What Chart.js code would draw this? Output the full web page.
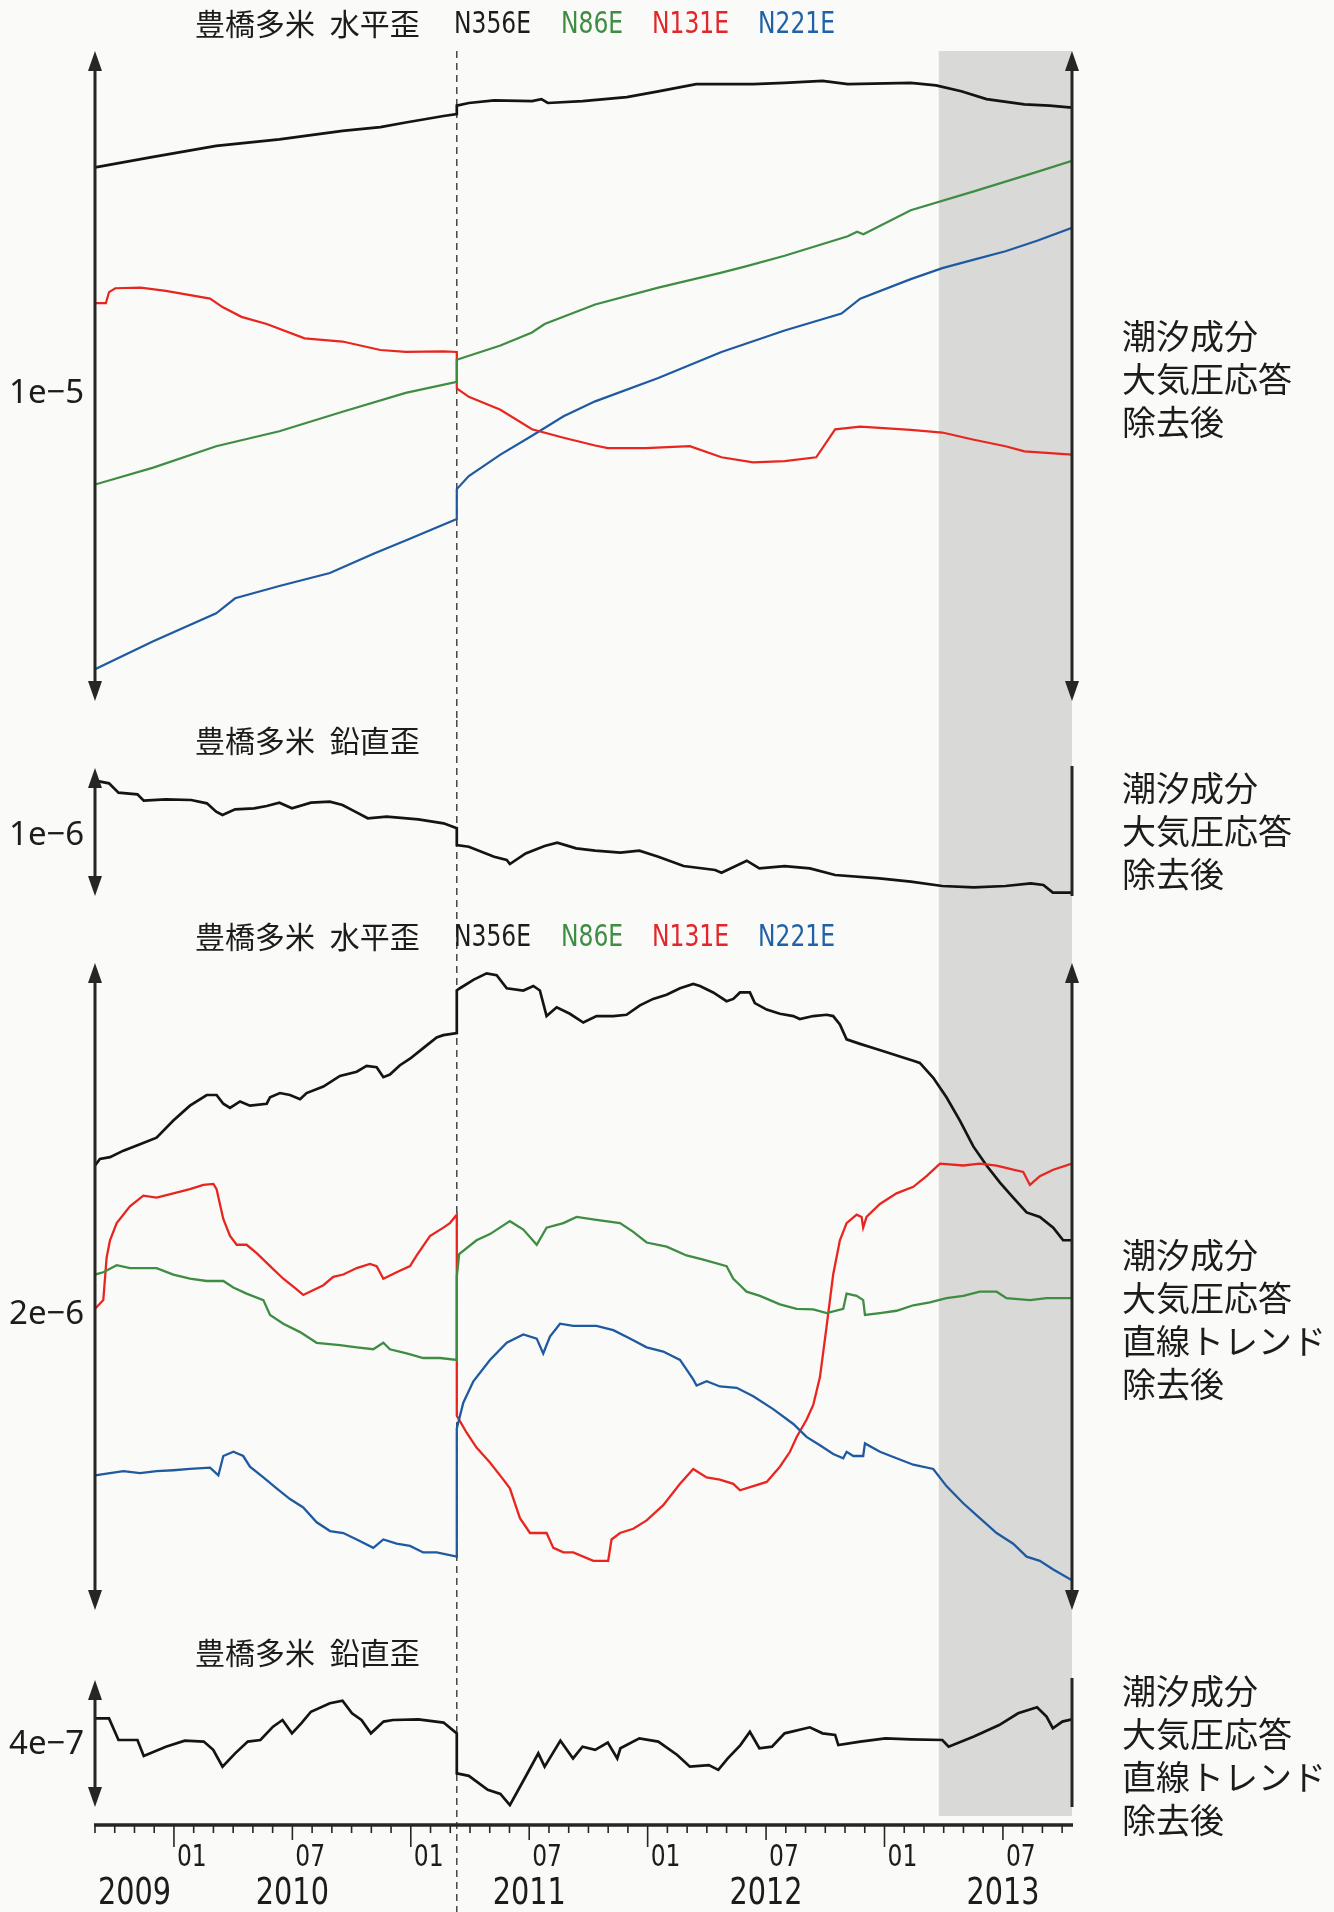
<!DOCTYPE html>
<html>
<head>
<meta charset="utf-8">
<script src="https://cdn.jsdelivr.net/npm/chart.js@4.4.1/dist/chart.umd.min.js"></script>
<style>
  body { margin: 0; background: #fafaf8; }
  #wrap { position: relative; width: 1334px; height: 1912px; overflow: hidden; background: #fafaf8; }
  canvas { position: absolute; left: 0; }
  .t { position: absolute; font-family: "Noto Sans CJK JP"; font-size: 30px; line-height: 1;
       transform: translateY(-50%); color: #1c1c1c; white-space: nowrap; word-spacing: 8px; }
  .lat { font-family: "Liberation Sans Narrow", "DejaVu Sans Condensed", sans-serif; font-size: 31px;
         transform: translateY(-50%) scaleX(0.84); transform-origin: left center; }
  .g { color: #3f8c43; } .r { color: #e3262a; } .b { color: #1f62a8; }
  .side { position: absolute; left: 1122px; font-family: "Noto Sans CJK JP"; font-size: 34px;
          line-height: 43px; color: #1c1c1c; white-space: nowrap; }
  .s { position: absolute; left: 9px; font-family: "Noto Sans"; font-size: 33px; line-height: 1;
       transform: translateY(-50%); color: #1c1c1c; }
</style>
</head>
<body>
<div id="wrap">
  <canvas id="c1" width="1334" height="720" style="top:0px"></canvas>
  <canvas id="c2" width="1334" height="210" style="top:720px"></canvas>
  <canvas id="c3" width="1334" height="700" style="top:930px"></canvas>
  <canvas id="c4" width="1334" height="282" style="top:1630px"></canvas>

  <div class="t" style="top:22px;left:195px">豊橋多米 水平歪</div>
  <div class="t lat" style="top:22px;left:454px">N356E</div>
  <div class="t lat g" style="top:22px;left:561px">N86E</div>
  <div class="t lat r" style="top:22px;left:652px">N131E</div>
  <div class="t lat b" style="top:22px;left:758px">N221E</div>

  <div class="t" style="top:739px;left:195px">豊橋多米 鉛直歪</div>

  <div class="t" style="top:935px;left:195px">豊橋多米 水平歪</div>
  <div class="t lat" style="top:935px;left:454px">N356E</div>
  <div class="t lat g" style="top:935px;left:561px">N86E</div>
  <div class="t lat r" style="top:935px;left:652px">N131E</div>
  <div class="t lat b" style="top:935px;left:758px">N221E</div>

  <div class="t" style="top:1651px;left:195px">豊橋多米 鉛直歪</div>

  <div class="s" style="top:390px">1e−5</div>
  <div class="s" style="top:832px">1e−6</div>
  <div class="s" style="top:1311px">2e−6</div>
  <div class="s" style="top:1741px">4e−7</div>

  <div class="side" style="top:313px">潮汐成分<br>大気圧応答<br>除去後</div>
  <div class="side" style="top:765px">潮汐成分<br>大気圧応答<br>除去後</div>
  <div class="side" style="top:1232px">潮汐成分<br>大気圧応答<br>直線トレンド<br>除去後</div>
  <div class="side" style="top:1668px">潮汐成分<br>大気圧応答<br>直線トレンド<br>除去後</div>
</div>

<script>
// x: months since 2009-09-01, y: strain in units of 1e-6
const X_MAX = 49.5;        // right edge, mid Oct 2013
const QUAKE = 18.33;       // 2011-03-11
const SHADE_FROM = 42.75;  // late Mar 2013

const monthTickLabels = { 4: "01", 10: "07", 16: "01", 22: "07", 28: "01", 34: "07", 40: "01", 46: "07" };
const yearLabels = ["2009", "2010", "2011", "2012", "2013"];
const yearLabelAt = [0, 10, 22, 34, 46];

// panel 1: horizontal strain, tides + air pressure removed (bar = 1e-5)
const h1Black = [[0,8.21],[2.95,8.37],[6.14,8.54],[9.34,8.64],[12.54,8.77],[14.46,8.83],[15.74,8.90],[17.66,9.00],[18.33,9.03],[18.33,9.16],[18.94,9.20],[20.22,9.24],[22.14,9.23],[22.62,9.26],[22.94,9.20],[24.70,9.23],[26.94,9.29],[28.54,9.38],[30.46,9.49],[33.34,9.49],[34.94,9.51],[36.86,9.54],[38.14,9.49],[41.33,9.51],[42.61,9.47],[43.89,9.38],[45.17,9.26],[47.09,9.18],[48.37,9.16],[49.5,9.13]];
const h1Green = [[0,3.33],[2.95,3.59],[6.14,3.92],[9.34,4.15],[12.54,4.45],[15.74,4.74],[18.33,4.91],[18.33,5.25],[20.54,5.47],[22.14,5.67],[22.78,5.80],[25.34,6.10],[28.54,6.36],[31.74,6.59],[33.02,6.69],[34.94,6.85],[38.14,7.15],[38.61,7.22],[38.93,7.18],[41.33,7.55],[44.53,7.84],[47.73,8.14],[49.5,8.31]];
const h1Red = [[0,6.12],[0.55,6.12],[0.71,6.29],[1.03,6.35],[2.31,6.36],[3.59,6.31],[5.83,6.19],[6.46,6.06],[7.42,5.91],[8.70,5.80],[10.62,5.58],[12.54,5.53],[14.46,5.40],[15.74,5.37],[17.66,5.38],[18.33,5.37],[18.33,4.81],[18.94,4.68],[20.54,4.48],[22.14,4.18],[23.74,4.05],[25.34,3.93],[25.98,3.89],[27.90,3.89],[30.14,3.92],[31.74,3.75],[33.34,3.67],[34.94,3.69],[36.54,3.75],[37.50,4.18],[38.77,4.22],[41.33,4.17],[42.93,4.13],[44.53,4.02],[46.13,3.92],[47.09,3.84],[49.5,3.79]];
const h1Blue = [[0,0.49],[2.95,0.92],[6.14,1.35],[7.10,1.58],[9.34,1.77],[11.90,1.97],[14.14,2.27],[15.74,2.47],[18.33,2.80],[18.33,3.26],[18.94,3.46],[20.54,3.79],[22.14,4.08],[23.74,4.38],[25.34,4.61],[28.54,4.97],[31.74,5.37],[34.94,5.70],[37.82,5.96],[38.77,6.19],[41.33,6.49],[42.93,6.66],[44.53,6.79],[46.13,6.92],[47.73,7.08],[49.5,7.28]];

// panel 2: vertical strain (bar = 1e-6)
const v1Black = [[0,0.901],[0.71,0.880],[1.19,0.807],[2.15,0.794],[2.47,0.745],[3.59,0.755],[4.87,0.750],[5.67,0.724],[6.14,0.659],[6.46,0.633],[7.10,0.677],[8.06,0.685],[8.70,0.703],[9.34,0.729],[9.98,0.685],[10.94,0.729],[11.90,0.737],[12.54,0.711],[13.18,0.659],[13.82,0.607],[14.78,0.620],[16.38,0.599],[17.66,0.568],[18.33,0.529],[18.33,0.398],[18.94,0.385],[20.22,0.307],[20.86,0.281],[21.02,0.250],[21.82,0.333],[22.78,0.391],[23.42,0.417],[24.38,0.372],[25.34,0.354],[26.62,0.339],[27.58,0.354],[28.54,0.307],[29.82,0.234],[31.42,0.203],[31.74,0.182],[33.02,0.276],[33.66,0.216],[34.94,0.234],[36.22,0.216],[37.50,0.164],[39.74,0.138],[41.33,0.112],[42.93,0.078],[44.53,0.068],[46.13,0.078],[47.41,0.099],[48.05,0.086],[48.53,0.026],[49.5,0.026]];

// panel 3: horizontal strain, linear trend also removed (bar = 2e-6)
const h2Black = [[0,1.374],[0.25,1.394],[0.76,1.400],[1.44,1.420],[2.28,1.440],[3.12,1.460],[3.97,1.513],[4.81,1.559],[5.66,1.592],[6.16,1.592],[6.50,1.565],[6.84,1.552],[7.35,1.572],[7.85,1.559],[8.70,1.565],[8.87,1.585],[9.37,1.598],[9.88,1.592],[10.39,1.579],[10.72,1.598],[11.57,1.618],[12.41,1.651],[13.26,1.664],[13.76,1.682],[14.27,1.678],[14.61,1.647],[14.94,1.655],[15.45,1.684],[15.96,1.704],[16.63,1.737],[17.31,1.770],[17.65,1.777],[18.33,1.783],[18.33,1.915],[18.49,1.922],[19.17,1.948],[19.84,1.968],[20.35,1.962],[20.86,1.922],[21.70,1.915],[22.21,1.929],[22.54,1.915],[22.88,1.836],[23.39,1.863],[24.06,1.843],[24.74,1.816],[25.41,1.836],[26.26,1.836],[26.93,1.840],[27.61,1.869],[28.28,1.889],[28.96,1.902],[29.64,1.922],[30.31,1.935],[30.65,1.929],[31.32,1.909],[32.00,1.882],[32.34,1.889],[32.68,1.909],[33.18,1.909],[33.43,1.876],[34.03,1.856],[34.70,1.843],[35.38,1.836],[35.71,1.827],[36.39,1.836],[37.07,1.840],[37.40,1.836],[37.74,1.810],[38.08,1.764],[38.76,1.750],[39.43,1.737],[40.11,1.724],[40.78,1.711],[41.46,1.698],[41.79,1.691],[42.47,1.645],[43.14,1.585],[43.82,1.513],[44.50,1.433],[45.17,1.374],[45.85,1.321],[46.52,1.275],[47.20,1.229],[47.87,1.215],[48.55,1.182],[49.05,1.143],[49.5,1.143]];
const h2Green = [[0,1.037],[0.42,1.044],[1.10,1.066],[1.77,1.057],[3.12,1.057],[3.97,1.037],[4.81,1.024],[5.66,1.017],[6.50,1.017],[7.01,0.997],[7.68,0.978],[8.53,0.958],[8.87,0.912],[9.54,0.885],[10.39,0.859],[11.23,0.826],[12.41,0.819],[13.26,0.812],[14.10,0.806],[14.61,0.826],[14.94,0.806],[15.79,0.793],[16.63,0.779],[17.48,0.779],[18.33,0.773],[18.33,1.030],[18.45,1.100],[19.33,1.143],[20.01,1.162],[21.02,1.202],[21.70,1.176],[22.38,1.129],[22.88,1.182],[23.73,1.196],[24.40,1.215],[25.41,1.206],[26.60,1.196],[27.27,1.169],[27.95,1.136],[28.96,1.123],[29.97,1.096],[30.82,1.083],[32.00,1.063],[32.34,1.024],[32.68,1.004],[33.01,0.984],[33.69,0.971],[34.70,0.945],[35.55,0.931],[36.39,0.929],[37.07,0.918],[37.91,0.931],[38.08,0.978],[38.59,0.971],[38.92,0.958],[39.01,0.912],[39.77,0.918],[40.61,0.925],[41.46,0.942],[42.30,0.951],[43.14,0.964],[43.99,0.971],[44.83,0.984],[45.68,0.984],[46.18,0.964],[47.37,0.958],[48.21,0.964],[49.5,0.964]];
const h2Red = [[0,0.931],[0.42,0.958],[0.59,1.090],[0.76,1.143],[1.10,1.196],[1.77,1.248],[2.45,1.281],[3.12,1.275],[3.97,1.288],[4.81,1.301],[5.49,1.314],[6.00,1.317],[6.16,1.301],[6.50,1.209],[6.84,1.156],[7.18,1.129],[7.68,1.129],[8.19,1.103],[8.87,1.063],[9.54,1.024],[10.22,0.991],[10.55,0.974],[10.89,0.984],[11.57,1.004],[12.07,1.030],[12.58,1.037],[13.26,1.057],[13.93,1.070],[14.27,1.063],[14.61,1.024],[15.28,1.044],[15.96,1.063],[16.30,1.096],[16.97,1.156],[17.65,1.182],[17.98,1.196],[18.33,1.222],[18.33,0.601],[18.83,0.548],[19.33,0.502],[20.01,0.456],[20.69,0.403],[21.02,0.376],[21.53,0.284],[22.04,0.238],[22.88,0.238],[23.22,0.192],[23.73,0.178],[24.23,0.178],[25.25,0.152],[26.00,0.152],[26.17,0.218],[26.60,0.238],[27.27,0.251],[27.95,0.277],[28.79,0.324],[29.64,0.390],[30.31,0.436],[30.65,0.423],[30.99,0.410],[31.66,0.403],[32.34,0.390],[32.68,0.370],[33.35,0.383],[34.03,0.396],[34.70,0.443],[35.21,0.489],[35.55,0.535],[36.05,0.588],[36.39,0.634],[36.73,0.720],[37.07,0.878],[37.40,1.037],[37.74,1.143],[38.08,1.196],[38.59,1.222],[38.84,1.215],[38.92,1.182],[39.09,1.215],[39.77,1.255],[40.61,1.288],[41.46,1.308],[42.13,1.341],[42.81,1.380],[43.99,1.374],[44.83,1.380],[45.68,1.374],[46.52,1.361],[47.03,1.354],[47.37,1.314],[47.87,1.341],[48.55,1.361],[49.5,1.380]];
const h2Blue = [[0,0.416],[0.76,0.423],[1.44,0.429],[2.28,0.423],[3.12,0.429],[3.97,0.432],[4.81,0.436],[5.83,0.440],[6.25,0.416],[6.50,0.476],[7.01,0.489],[7.51,0.476],[7.85,0.443],[8.53,0.410],[9.20,0.376],[9.88,0.343],[10.55,0.317],[11.23,0.271],[11.91,0.244],[12.58,0.238],[13.26,0.218],[14.10,0.192],[14.61,0.218],[15.28,0.205],[15.96,0.198],[16.63,0.178],[17.31,0.178],[18.33,0.165],[18.33,0.561],[18.66,0.641],[19.17,0.707],[20.01,0.773],[20.86,0.826],[21.70,0.852],[22.38,0.839],[22.71,0.793],[23.05,0.845],[23.56,0.885],[24.23,0.878],[25.41,0.878],[26.26,0.865],[27.10,0.839],[27.95,0.812],[28.79,0.799],[29.64,0.773],[30.31,0.713],[30.48,0.694],[30.99,0.707],[31.66,0.691],[32.51,0.687],[33.35,0.661],[34.36,0.621],[35.38,0.575],[36.05,0.535],[36.73,0.509],[37.40,0.482],[37.91,0.469],[38.08,0.489],[38.42,0.476],[38.92,0.476],[39.01,0.515],[39.77,0.489],[40.61,0.469],[41.46,0.449],[42.47,0.436],[43.14,0.383],[43.99,0.330],[44.83,0.284],[45.68,0.238],[46.52,0.205],[47.20,0.165],[47.87,0.152],[48.55,0.125],[49.5,0.092]];

// panel 4: vertical strain, linear trend also removed (bar = 4e-7)
const v2Black = [[0,0.279],[0.71,0.279],[1.19,0.211],[2.15,0.211],[2.47,0.161],[3.59,0.190],[4.55,0.209],[5.51,0.206],[5.99,0.180],[6.46,0.127],[7.10,0.169],[7.74,0.206],[8.38,0.211],[9.02,0.253],[9.50,0.274],[9.98,0.232],[10.46,0.264],[10.94,0.300],[11.90,0.327],[12.54,0.335],[13.02,0.295],[13.50,0.274],[13.98,0.232],[14.62,0.269],[15.10,0.274],[16.38,0.276],[17.66,0.266],[18.33,0.232],[18.33,0.106],[18.94,0.098],[19.90,0.054],[20.54,0.041],[21.02,0.006],[21.82,0.096],[22.46,0.169],[22.78,0.127],[23.58,0.209],[24.22,0.153],[24.70,0.190],[25.34,0.180],[25.98,0.203],[26.46,0.153],[26.62,0.185],[27.58,0.216],[28.54,0.206],[29.50,0.164],[30.14,0.127],[31.10,0.132],[31.58,0.117],[32.06,0.153],[32.70,0.195],[33.18,0.237],[33.66,0.185],[34.30,0.190],[34.94,0.232],[36.22,0.251],[36.86,0.232],[37.50,0.227],[37.66,0.195],[38.77,0.206],[40.05,0.216],[41.33,0.213],[42.93,0.211],[43.25,0.190],[44.53,0.222],[45.81,0.258],[46.77,0.295],[47.73,0.314],[48.21,0.285],[48.53,0.248],[49.01,0.269],[49.5,0.276]];

const BLACK = "#141414", GREEN = "#3f8c43", RED = "#e8261f", BLUE = "#1f5aa0";
const AXIS = "#262626";
const NARROW = '"Liberation Sans Narrow", "DejaVu Sans Condensed", sans-serif';

function vArrow(ctx, x, y0, y1, heads) {
  const hl = 20, hw = 7;
  ctx.beginPath();
  ctx.moveTo(x, heads ? y0 + hl - 2 : y0);
  ctx.lineTo(x, heads ? y1 - hl + 2 : y1);
  ctx.stroke();
  if (!heads) return;
  ctx.beginPath();
  ctx.moveTo(x, y0); ctx.lineTo(x - hw, y0 + hl); ctx.lineTo(x + hw, y0 + hl); ctx.closePath(); ctx.fill();
  ctx.beginPath();
  ctx.moveTo(x, y1); ctx.lineTo(x - hw, y1 - hl); ctx.lineTo(x + hw, y1 - hl); ctx.closePath(); ctx.fill();
}

// condensed text: squeeze horizontally like the narrow face in the original
function narrowText(ctx, text, x, y, align) {
  const w = ctx.measureText(text).width * 0.84;
  const left = align === "center" ? x - w / 2 : x;
  ctx.save();
  ctx.translate(left, y);
  ctx.scale(0.84, 1);
  ctx.textAlign = "left";
  ctx.fillText(text, 0, 0);
  ctx.restore();
}

const panelFrame = {
  id: "panelFrame",
  beforeDatasetsDraw(chart, args, o) {
    const { ctx, chartArea: a, scales: { x } } = chart;
    const H = chart.height;
    const sx = x.getPixelForValue(SHADE_FROM);
    const top = o.first ? a.top : 0;
    const bot = o.last ? a.bottom + 9 : H;
    ctx.save();
    ctx.fillStyle = "#d9d9d7";
    ctx.fillRect(sx, top, a.right - sx, bot - top);
    const qx = x.getPixelForValue(QUAKE);
    ctx.strokeStyle = "#3a3a3a";
    ctx.lineWidth = 1.4;
    ctx.setLineDash([7, 5]);
    ctx.beginPath();
    ctx.moveTo(qx, top);
    ctx.lineTo(qx, H);
    ctx.stroke();
    ctx.restore();
  },
  afterDatasetsDraw(chart, args, o) {
    const { ctx, chartArea: a } = chart;
    ctx.save();
    ctx.strokeStyle = AXIS;
    ctx.fillStyle = AXIS;
    ctx.lineWidth = 3;
    vArrow(ctx, a.left, a.top, a.bottom, true);
    vArrow(ctx, a.right, o.rightArrow ? a.top : a.top - 2, a.bottom, o.rightArrow);
    ctx.restore();
  },
  afterDraw(chart, args, o) {
    if (!o.timeAxis) return;
    const { ctx, chartArea: a, scales: { x } } = chart;
    const y = a.bottom + 18;
    ctx.save();
    ctx.strokeStyle = AXIS;
    ctx.fillStyle = "#1c1c1c";
    ctx.lineWidth = 3.5;
    ctx.beginPath();
    ctx.moveTo(x.getPixelForValue(0) - 1, y);
    ctx.lineTo(x.getPixelForValue(X_MAX) + 1, y);
    ctx.stroke();
    ctx.lineWidth = 1.6;
    for (let m = 0; m <= Math.floor(X_MAX); m++) {
      const px = x.getPixelForValue(m);
      const len = m % 12 === 4 ? 22 : (m % 12 === 10 ? 15 : 8);
      ctx.beginPath();
      ctx.moveTo(px, y);
      ctx.lineTo(px, y + len);
      ctx.stroke();
    }
    ctx.textBaseline = "middle";
    ctx.font = "31px " + NARROW;
    Object.keys(monthTickLabels).forEach((m) => {
      narrowText(ctx, monthTickLabels[m], x.getPixelForValue(+m) + 3, y + 33, "left");
    });
    ctx.font = "38px " + NARROW;
    yearLabels.forEach((lab, i) => {
      const px = x.getPixelForValue(yearLabelAt[i]);
      if (i === 0) narrowText(ctx, lab, px + 3, y + 69, "left");
      else narrowText(ctx, lab, px, y + 69, "center");
    });
    ctx.restore();
  }
};

function series(points, color, width) {
  return {
    data: points.map((p) => ({ x: p[0], y: p[1] })),
    borderColor: color,
    borderWidth: width,
    pointRadius: 0,
    fill: false,
    tension: 0
  };
}

function makePanel(canvasId, padTop, padBottom, yMax, datasets, frame) {
  return new Chart(document.getElementById(canvasId), {
    type: "line",
    data: { datasets: datasets },
    options: {
      responsive: false,
      animation: false,
      devicePixelRatio: 1,
      layout: { padding: { left: 95, right: 262, top: padTop, bottom: padBottom } },
      plugins: { legend: { display: false }, tooltip: { enabled: false }, panelFrame: frame },
      scales: {
        x: { type: "linear", min: 0, max: X_MAX, display: false },
        y: { type: "linear", min: 0, max: yMax, display: false }
      }
    },
    plugins: [panelFrame]
  });
}

makePanel("c1", 51, 19, 10, [
  series(h1Green, GREEN, 2.2),
  series(h1Red, RED, 2.2),
  series(h1Blue, BLUE, 2.2),
  series(h1Black, BLACK, 2.7)
], { first: true, rightArrow: true });

makePanel("c2", 48, 34, 1, [
  series(v1Black, BLACK, 2.7)
], { rightArrow: false });

makePanel("c3", 33, 20, 2, [
  series(h2Green, GREEN, 2.3),
  series(h2Blue, BLUE, 2.3),
  series(h2Red, RED, 2.3),
  series(h2Black, BLACK, 2.7)
], { rightArrow: true });

makePanel("c4", 50, 105, 0.4, [
  series(v2Black, BLACK, 2.7)
], { last: true, rightArrow: false, timeAxis: true });
</script>
</body>
</html>
